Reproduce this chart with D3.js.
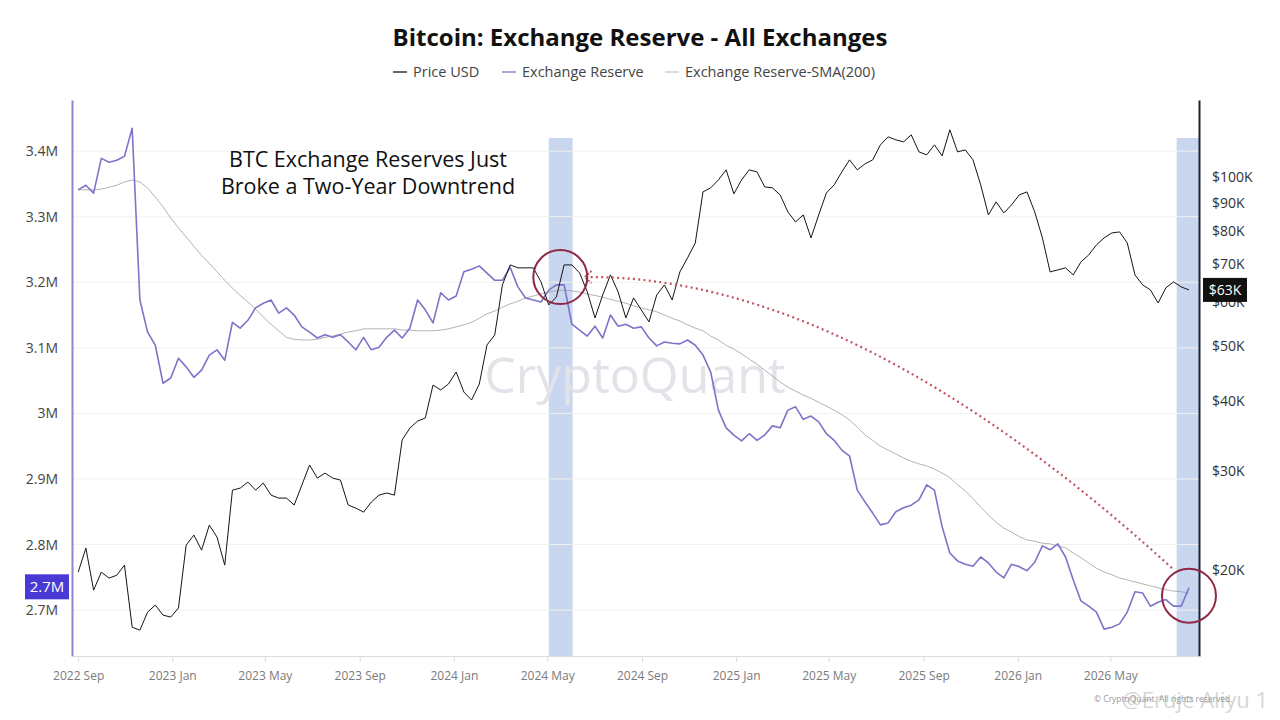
<!DOCTYPE html>
<html><head><meta charset="utf-8">
<script src="https://cdn.jsdelivr.net/npm/d3@7"></script>
<style>body{margin:0;background:#fff}svg{display:block}</style>
</head><body><svg id="c" width="1280" height="720"></svg>
<script>
// ---------- DATA ----------
const startDate = "2022-09-01";
const stepDays = 10;
// Exchange reserve, BTC (millions)
const reserve = [3.341,3.348,3.336,3.389,3.383,3.386,3.392,3.435,3.173,3.124,
3.104,3.046,3.054,3.084,3.071,3.055,3.066,3.089,3.097,3.081,
3.139,3.130,3.142,3.161,3.168,3.173,3.153,3.161,3.150,3.132,
3.124,3.115,3.120,3.116,3.120,3.109,3.097,3.116,3.097,3.101,
3.116,3.127,3.115,3.130,3.173,3.158,3.138,3.184,3.173,3.179,
3.216,3.220,3.225,3.214,3.203,3.203,3.223,3.193,3.176,3.173,
3.170,3.188,3.196,3.196,3.136,3.127,3.118,3.133,3.115,3.150,
3.133,3.136,3.130,3.132,3.115,3.103,3.109,3.107,3.106,3.112,
3.104,3.089,3.063,3.005,2.978,2.967,2.958,2.969,2.959,2.967,
2.981,2.978,3.005,3.010,2.991,2.996,2.987,2.969,2.959,2.944,
2.935,2.883,2.865,2.848,2.830,2.833,2.850,2.856,2.860,2.868,
2.891,2.883,2.827,2.787,2.775,2.770,2.767,2.781,2.772,2.758,
2.749,2.770,2.766,2.760,2.773,2.798,2.792,2.801,2.781,2.746,
2.714,2.706,2.697,2.671,2.674,2.679,2.697,2.728,2.726,2.706,
2.712,2.716,2.706,2.706,2.734];
// Price USD
const price = [19820,21870,18410,19820,19340,19570,20400,15820,15630,16830,
17320,16620,16490,17110,22140,23070,21690,24030,22880,20400,
27730,27960,28660,27730,28540,27170,26840,26840,26090,28310,
30740,29130,29730,29130,28890,26090,25760,25340,26410,27170,
27400,27170,34040,35750,36790,37250,42640,41780,42820,44980,
41440,40110,42820,50250,52350,64250,69740,68900,68900,68900,
65050,59200,61180,69740,69740,67500,62440,56130,61660,66940,
62440,56130,60920,58000,55210,61660,64250,60420,67760,71780,
76310,94040,95600,98780,102920,93280,98780,102920,102070,95980,
95600,92890,86660,83150,85580,77890,85580,93660,96780,102070,
107210,102920,105470,107210,114010,117830,116370,115420,118770,110780,
109430,114010,108980,121250,110780,111690,107210,96780,85580,90270,
86290,89170,92890,94040,86660,77890,67760,68330,68900,66940,
70610,72630,75680,77890,79490,79830,76310,66940,64250,62950,
59670,63470,65050,63730,62950];
// Exchange Reserve SMA(200), millions
const reserveSMA = [3.341,3.341,3.341,3.342,3.345,3.348,3.353,3.356,3.353,3.344,
3.330,3.315,3.298,3.283,3.269,3.255,3.241,3.229,3.216,3.203,
3.191,3.180,3.170,3.159,3.147,3.136,3.126,3.116,3.113,3.112,
3.112,3.113,3.116,3.118,3.121,3.124,3.126,3.129,3.129,3.129,
3.129,3.129,3.127,3.127,3.126,3.126,3.126,3.127,3.129,3.132,
3.135,3.139,3.145,3.152,3.156,3.162,3.167,3.171,3.176,3.179,
3.182,3.185,3.187,3.188,3.187,3.185,3.182,3.180,3.177,3.174,
3.171,3.168,3.164,3.161,3.158,3.155,3.150,3.145,3.141,3.135,
3.130,3.126,3.118,3.112,3.104,3.098,3.091,3.083,3.075,3.066,
3.057,3.048,3.040,3.034,3.028,3.023,3.017,3.011,3.005,2.998,
2.990,2.979,2.967,2.959,2.950,2.944,2.938,2.932,2.927,2.923,
2.920,2.915,2.909,2.902,2.891,2.882,2.870,2.857,2.845,2.834,
2.825,2.819,2.812,2.807,2.805,2.802,2.801,2.798,2.795,2.787,
2.780,2.772,2.764,2.758,2.754,2.749,2.746,2.743,2.740,2.737,
2.734,2.731,2.729,2.728,2.726];
const xTicks = ["2022-09-01","2023-01-01","2023-05-01","2023-09-01","2024-01-01","2024-05-01",
"2024-09-01","2025-01-01","2025-05-01","2025-09-01","2026-01-01","2026-05-01"];
const leftTicks = [2.7,2.8,2.9,3.0,3.1,3.2,3.3,3.4];
const rightTicks = [20000,30000,40000,50000,60000,70000,80000,90000,100000];
const bands = [["2024-05-03","2024-06-03"],["2026-07-26","2026-08-24"]];
const circles = [["2024-05-18",3.208],["2026-08-11",2.722]];
const arrowPts = [["2026-07-20",2.764],["2025-06-01",3.208],["2024-06-25",3.208]];
const legendItems = ["Price USD","Exchange Reserve","Exchange Reserve-SMA(200)"];
const titleText = "Bitcoin: Exchange Reserve - All Exchanges";
const noteLines = ["BTC Exchange Reserves Just","Broke a Two-Year Downtrend"];
const reserveBadge = "2.7M";
const priceBadge = "$63K";

// ---------- LAYOUT ----------
const P = {l:72, r:1199, t:100, b:656};
const FONT = "'Open Sans', 'Noto Sans', sans-serif";
const C = {price:"#151515", reserve:"#7c74c8", sma:"#a0a0a0", band:"#c8d6ef",
  grid:"#f1f1f1", red:"#c4525f", circle:"#8e2846"};

const svg = d3.select("#c");
const parse = d3.utcParse("%Y-%m-%d");
const dates = reserve.map((_, i) => d3.utcDay.offset(parse(startDate), i * stepDays));

const x = d3.scaleUtc().domain([parse("2022-08-24"), parse("2026-08-24")]).range([P.l, P.r]);
const yL = d3.scaleLinear().domain([2.63, 3.478]).range([P.b, P.t]);
const yR = d3.scaleLog().domain([14060, 137000]).range([P.b, P.t]);

svg.append("defs").append("clipPath").attr("id","clip")
  .append("rect").attr("x",P.l).attr("y",P.t).attr("width",P.r-P.l).attr("height",P.b-P.t);

// bands
svg.append("g").selectAll("rect").data(bands).join("rect")
  .attr("x", d => x(parse(d[0]))).attr("width", d => x(parse(d[1])) - x(parse(d[0])))
  .attr("y", 138).attr("height", P.b - 138).attr("fill", C.band);

// grid
svg.append("g").selectAll("line").data(leftTicks).join("line")
  .attr("x1", P.l).attr("x2", P.r).attr("y1", d => yL(d)).attr("y2", d => yL(d))
  .attr("stroke", C.grid).attr("stroke-width", 1);

// watermark
svg.append("text").attr("x", 635).attr("y", 393).attr("text-anchor","middle")
  .attr("font-family", FONT).attr("font-size", 50).attr("fill", "#e2e2e9")
  .text("CryptoQuant");

// lines
const g = svg.append("g").attr("clip-path","url(#clip)");
const lineL = d3.line().x((d,i) => x(dates[i])).y(d => yL(d));
const lineR = d3.line().x((d,i) => x(dates[i])).y(d => yR(d));
g.append("path").attr("d", lineL(reserveSMA)).attr("fill","none")
  .attr("stroke", C.sma).attr("stroke-width", 0.8);
g.append("path").attr("d", lineL(reserve)).attr("fill","none")
  .attr("stroke", C.reserve).attr("stroke-width", 1.6).attr("stroke-linejoin","round");
g.append("path").attr("d", lineR(price)).attr("fill","none")
  .attr("stroke", C.price).attr("stroke-width", 1).attr("stroke-linejoin","round");

// axes
const axL = svg.append("g").attr("transform", `translate(${P.l},0)`)
  .call(d3.axisLeft(yL).tickValues(leftTicks).tickSize(0).tickSizeOuter(0).tickPadding(14)
    .tickFormat(d => (+d.toFixed(1)) + "M"));
axL.select(".domain").attr("stroke", "#8d87d0").attr("stroke-width", 2);
axL.selectAll("text").attr("font-family", FONT).attr("font-size", 14).attr("fill", "#444");

const axR = svg.append("g").attr("transform", `translate(${P.r},0)`)
  .call(d3.axisRight(yR).tickValues(rightTicks).tickSize(0).tickSizeOuter(0).tickPadding(13)
    .tickFormat(d => "$" + (d/1000) + "K"));
axR.select(".domain").attr("stroke", "#1c2232").attr("stroke-width", 2);
axR.selectAll("text").attr("font-family", FONT).attr("font-size", 14).attr("fill", "#333");

const axB = svg.append("g").attr("transform", `translate(0,${P.b})`)
  .call(d3.axisBottom(x).tickValues(xTicks.map(parse)).tickSize(6).tickSizeOuter(0).tickPadding(9)
    .tickFormat(d3.utcFormat("%Y %b")));
axB.select(".domain").attr("stroke", "#dcdcdc");
axB.selectAll(".tick line").attr("stroke", "#dcdcdc");
axB.selectAll("text").attr("font-family", FONT).attr("font-size", 12).attr("fill", "#7a7a7a");

// badges
const lastR = reserve[reserve.length-1], lastP = price[price.length-1];
const bR = svg.append("g").attr("transform", `translate(47,${yL(lastR)-1})`);
bR.append("rect").attr("x",-22).attr("y",-12.5).attr("width",44).attr("height",25).attr("fill","#4a39d4");
bR.append("text").attr("text-anchor","middle").attr("dy","0.35em").attr("font-family",FONT)
  .attr("font-size",15).attr("fill","#fff").text(reserveBadge);
const bP = svg.append("g").attr("transform", `translate(1225,${yR(lastP)})`);
bP.append("rect").attr("x",-22).attr("y",-12).attr("width",44).attr("height",24).attr("fill","#111");
bP.append("text").attr("text-anchor","middle").attr("dy","0.35em").attr("font-family",FONT)
  .attr("font-size",14).attr("fill","#fff").text(priceBadge);

// annotation: arrow
const ap = arrowPts.map(d => [x(parse(d[0])), yL(d[1])]);
svg.append("path").attr("d", `M${ap[0][0]},${ap[0][1]} Q${ap[1][0]},${ap[1][1]} ${ap[2][0]},${ap[2][1]}`)
  .attr("fill","none").attr("stroke", C.red).attr("stroke-width", 2.2)
  .attr("stroke-dasharray","2 3.3");
const tip = [ap[2][0]-5, ap[2][1]];
svg.append("path").attr("d", `M${tip[0]+7},${tip[1]-6} L${tip[0]},${tip[1]} L${tip[0]+7},${tip[1]+6}`)
  .attr("fill","none").attr("stroke", C.red).attr("stroke-width", 1.8).attr("stroke-dasharray","2 1.5");

// circles
svg.append("g").selectAll("circle").data(circles).join("circle")
  .attr("cx", d => x(parse(d[0]))).attr("cy", d => yL(d[1])).attr("r", 27)
  .attr("fill","none").attr("stroke", C.circle).attr("stroke-width", 2);

// note text
svg.append("g").selectAll("text").data(noteLines).join("text")
  .attr("x", 368).attr("y", (d,i) => 167 + i*27).attr("text-anchor","middle")
  .attr("font-family", FONT).attr("font-size", 21.5).attr("fill", "#111").text(d => d);

// title
svg.append("text").attr("x", 640).attr("y", 46).attr("text-anchor","middle")
  .attr("font-family", FONT).attr("font-weight", 700).attr("font-size", 24).attr("fill", "#111")
  .text(titleText);

// legend
const legX = [393, 502, 665];
const legC = [C.price, C.reserve, "#c8c8c8"];
const leg = svg.append("g").selectAll("g").data(legendItems).join("g")
  .attr("transform", (d,i) => `translate(${legX[i]},72)`);
leg.append("line").attr("x1",0).attr("x2",14).attr("stroke",(d,i)=>legC[i]).attr("stroke-width",1.3);
leg.append("text").attr("x",20).attr("dy","0.35em").attr("font-family",FONT).attr("font-size",14.5)
  .attr("fill","#444").text(d => d);

// corner watermarks
svg.append("text").attr("x", 1268).attr("y", 708).attr("text-anchor","end")
  .attr("font-family", FONT).attr("font-size", 22).attr("fill", "#d6d6d6").text("@Eruje Aliyu 1");
svg.append("text").attr("x", 1094).attr("y", 702)
  .attr("font-family", FONT).attr("font-size", 8.5).attr("fill", "#9a9a9a")
  .text("© CryptoQuant. All rights reserved.");
</script></body></html>
